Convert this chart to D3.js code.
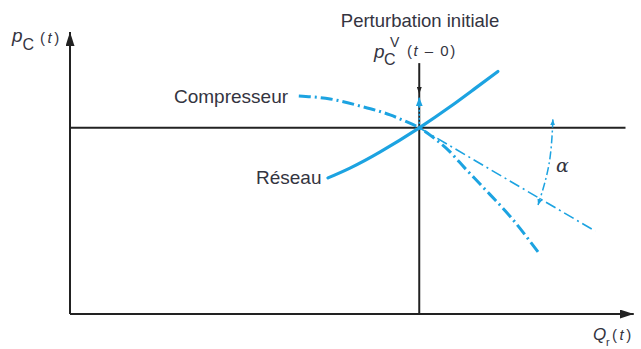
<!DOCTYPE html>
<html>
<head>
<meta charset="utf-8">
<script src="https://cdn.jsdelivr.net/npm/d3@7"></script>
<style>
  html, body { margin: 0; padding: 0; background: #fff; }
  svg { display: block; }
  text { font-family: "Liberation Sans", Arial, sans-serif; fill: #34343f; }
</style>
</head>
<body>
<svg id="chart" width="641" height="349"></svg>
<script>
// Network characteristic (solid): flow Q_r and pressure p_C
const reseauQ = [46.9, 50.9, 56.4, 63.5, 69.1, 73.6, 77.8];
const reseauP = [48.6, 52.1, 57.9, 66.5, 74.0, 80.5, 86.6];

// Compressor characteristic (dash-dot)
const compQ = [41.6, 47.3, 52.7, 58.2, 60.9, 63.5, 66.4, 69.1, 71.8, 74.9, 80.4, 85.5];
const compP = [77.9, 76.8, 74.3, 71.1, 68.9, 66.5, 62.5, 57.9, 52.1, 45.7, 34.0, 21.1];

// Operating point and tangent to the compressor curve
const operatingPoint = [63.5, 66.5];
const tangentEnd = [95.5, 29.6];

// Angle alpha between the horizontal and the tangent
const alphaQ = [87.8, 87.1, 85.1];
const alphaP = [69.5, 53.6, 38.9];

// Initial disturbance arrow (pressure reached) and black marker on the vertical
const perturbationTip = 77.4;
const verticalTop = 89.6;
const verticalMarker = 78.6;

const blue = "#1ca3e1";
const ink = "#222";

const svg = d3.select("#chart");
svg.append("rect").attr("width", 641).attr("height", 349).attr("fill", "#fff");

const x = d3.scaleLinear().domain([0, 100]).range([70, 620]);
const y = d3.scaleLinear().domain([0, 100]).range([314, 34]);

const defs = svg.append("defs");
function marker(id, color, w, h) {
  defs.append("marker")
    .attr("id", id)
    .attr("viewBox", `0 0 ${h} ${w}`)
    .attr("refX", h).attr("refY", w / 2)
    .attr("markerWidth", h).attr("markerHeight", w)
    .attr("markerUnits", "userSpaceOnUse")
    .attr("orient", "auto-start-reverse")
    .append("path")
    .attr("d", `M0,0L${h},${w / 2}L0,${w}Z`)
    .attr("fill", color);
}
marker("axisArrow", ink, 9, 14);
marker("blueArrow", blue, 7, 9);
marker("smallBlue", blue, 5, 6);
marker("smallInk", ink, 5, 7);

// Axes
const axes = svg.append("g").attr("stroke", ink).attr("stroke-width", 2).attr("fill", "none");
axes.append("line")
  .attr("x1", x(0)).attr("y1", y(0)).attr("x2", x(0)).attr("y2", y(100.7))
  .attr("marker-end", "url(#axisArrow)");
axes.append("line")
  .attr("x1", x(0)).attr("y1", y(0)).attr("x2", x(102.5)).attr("y2", y(0))
  .attr("marker-end", "url(#axisArrow)");

// Horizontal and vertical lines through the operating point
axes.append("line")
  .attr("x1", x(0)).attr("y1", y(operatingPoint[1]))
  .attr("x2", x(101)).attr("y2", y(operatingPoint[1]));
axes.append("line")
  .attr("x1", x(operatingPoint[0])).attr("y1", y(0))
  .attr("x2", x(operatingPoint[0])).attr("y2", y(verticalTop));
axes.append("line")
  .attr("stroke-width", 0.1)
  .attr("x1", x(operatingPoint[0])).attr("y1", y(verticalMarker + 2))
  .attr("x2", x(operatingPoint[0])).attr("y2", y(verticalMarker))
  .attr("marker-end", "url(#smallInk)");

const line = d3.line().x(d => x(d[0])).y(d => y(d[1]));

// Network curve
svg.append("path")
  .datum(d3.zip(reseauQ, reseauP))
  .attr("d", line.curve(d3.curveNatural))
  .attr("fill", "none").attr("stroke", blue).attr("stroke-width", 3.2)
  .attr("stroke-linecap", "round");

// Compressor curve
svg.append("path")
  .datum(d3.zip(compQ, compP))
  .attr("d", line.curve(d3.curveMonotoneX))
  .attr("fill", "none").attr("stroke", blue).attr("stroke-width", 3)
  .attr("stroke-dasharray", "12,4,2,4");

// Tangent at the operating point
svg.append("path")
  .datum([operatingPoint, tangentEnd])
  .attr("d", line.curve(d3.curveLinear))
  .attr("fill", "none").attr("stroke", blue).attr("stroke-width", 1.6)
  .attr("stroke-dasharray", "11,4,2,4");

// Alpha arc with arrows at both ends
svg.append("path")
  .datum(d3.zip(alphaQ, alphaP))
  .attr("d", line.curve(d3.curveNatural))
  .attr("fill", "none").attr("stroke", blue).attr("stroke-width", 1.5)
  .attr("stroke-dasharray", "8,3,2,3")
  .attr("marker-start", "url(#smallBlue)")
  .attr("marker-end", "url(#smallBlue)");

// Initial disturbance (dotted, upward)
svg.append("path")
  .datum([operatingPoint, [operatingPoint[0], perturbationTip]])
  .attr("d", line.curve(d3.curveLinear))
  .attr("fill", "none").attr("stroke", blue).attr("stroke-width", 1.6)
  .attr("stroke-dasharray", "2,2")
  .attr("marker-end", "url(#blueArrow)");

// Labels
svg.append("text").attr("x", 420).attr("y", 27).attr("text-anchor", "middle")
  .style("font-size", "18.5px").text("Perturbation initiale");

svg.append("text").attr("x", 174).attr("y", 103).style("font-size", "19px").text("Compresseur");
svg.append("text").attr("x", 256).attr("y", 184).style("font-size", "19px").text("Réseau");

// p_C (t) on the vertical axis
const pc = svg.append("text").attr("x", 12).attr("y", 42).style("font-size", "19px");
pc.append("tspan").style("font-style", "italic").text("p");
pc.append("tspan").attr("dy", 8).style("font-size", "16px").text("C");
pc.append("tspan").attr("x", 40).attr("y", 43).style("font-size", "15px")
  .attr("letter-spacing", "2.5").html("(<tspan font-style='italic'>t</tspan>)");

// p_C^V (t – 0)
const pv = svg.append("text").attr("x", 374).attr("y", 58).style("font-size", "19px");
pv.append("tspan").style("font-style", "italic").text("p");
pv.append("tspan").attr("x", 384).attr("y", 65).style("font-size", "16px").text("C");
pv.append("tspan").attr("x", 390).attr("y", 47).style("font-size", "14px").text("V");
pv.append("tspan").attr("x", 407).attr("y", 56).style("font-size", "15px")
  .attr("letter-spacing", "1.5").html("(<tspan font-style='italic'>t</tspan> – 0)");

// alpha
svg.append("text").attr("x", 556).attr("y", 172).style("font-size", "19px").style("font-style", "italic")
  .style("font-family", "'DejaVu Serif', serif").text("α");

// Q_r (t) on the horizontal axis
const qr = svg.append("text").attr("x", 593).attr("y", 340).style("font-size", "17px");
qr.append("tspan").style("font-style", "italic").text("Q");
qr.append("tspan").attr("x", 606).attr("y", 346).style("font-size", "11px").text("r");
qr.append("tspan").attr("x", 612).attr("y", 340).style("font-size", "15px")
  .attr("letter-spacing", "2.5").html("(<tspan font-style='italic'>t</tspan>)");
</script>
</body>
</html>
